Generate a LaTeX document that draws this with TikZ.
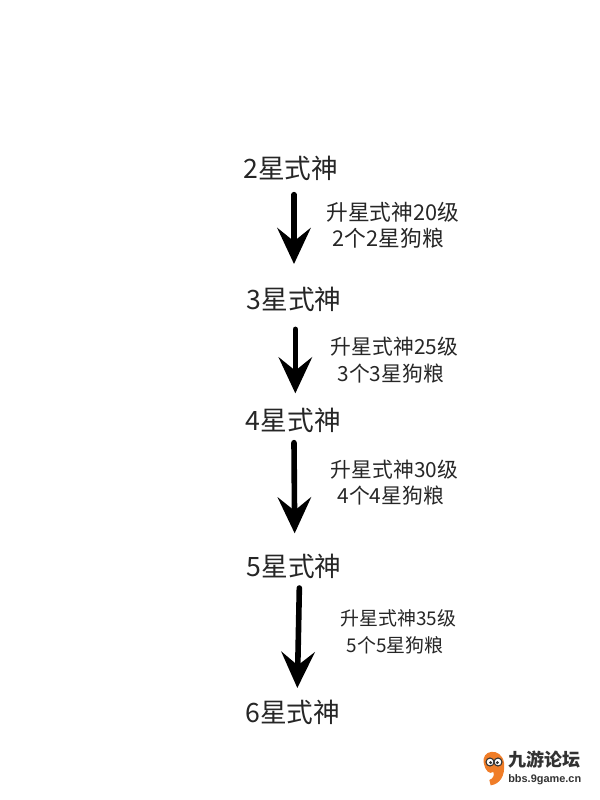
\documentclass[tikz,border=0pt]{standalone}
\usepackage{fontspec}
\setmainfont{Noto Sans CJK SC}
\newfontfamily\logofont{Liberation Sans}
\usetikzlibrary{arrows.meta}
\definecolor{LogoOrange}{RGB}{240,125,40}
\definecolor{LogoDark}{RGB}{50,50,50}
\tikzset{Level/.style={inner sep=0pt, font=\fontsize{20}{20}\selectfont, text=black!85},
         Cond/.style={inner sep=0pt, align=left, text=black!85},
         Up/.style={line width=4.2pt, line cap=round, -{Stealth[length=27pt,width=25pt,inset=10pt]}},
         LogoText/.style={inner sep=0pt, text=LogoDark}}
\begin{document}
\begin{tikzpicture}[x=1pt,y=-1pt]
    \useasboundingbox (0,0) rectangle (450,600);
    \node[Level] (S2) at (218,126) {2星式神};
    \node[Level] (S3) at (220.5,224.5) {3星式神};
    \node[Level] (S4) at (220,315) {4星式神};
    \node[Level] (S5) at (220.5,424.5) {5星式神};
    \node[Level] (S6) at (219.5,534) {6星式神};
    \coordinate (A2) at (220.5,146);
    \coordinate (B2) at (220.5,198);
    \coordinate (A3) at (221.5,247);
    \coordinate (B3) at (221.5,295);
    \coordinate (A4) at (220.5,332);
    \coordinate (B4) at (221,400);
    \coordinate (A5) at (224.5,441);
    \coordinate (B5) at (223,516);
    \draw[Up] (A2) -- (B2);
    \draw[Up] (A3) -- (B3);
    \draw[Up] (A4) -- (B4);
    \draw[Up] (A5) -- (B5);
    \node[Cond, anchor=west, font=\fontsize{16.3}{20}\selectfont] (C2) at (244.5,169) {升星式神20级\\\hspace{5pt}2个2星狗粮};
    \node[Cond, anchor=west, font=\fontsize{15.6}{20}\selectfont] (C3) at (248,270) {升星式神25级\\\hspace{5pt}3个3星狗粮};
    \node[Cond, anchor=west, font=\fontsize{15.6}{20}\selectfont] (C4) at (248,362) {升星式神30级\\\hspace{5pt}4个4星狗粮};
    \node[Cond, anchor=west, font=\fontsize{14.2}{20}\selectfont] (C5) at (255,474) {升星式神35级\\\hspace{5pt}5个5星狗粮};
    % logo
    \fill[LogoOrange] (363,573) .. controls (360,562) and (376,560) .. (378,572)
        .. controls (379,582) and (375,588) .. (368,589) -- (367,585)
        .. controls (370,584) and (371,581) .. (370,579) .. controls (367,581) and (364,578) .. (363,573) -- cycle;
    \draw[LogoDark, fill=white, line width=.8pt] (367.5,571.5) circle (3pt);
    \draw[LogoDark, fill=white, line width=.8pt] (373.5,571.5) circle (3pt);
    \fill[LogoDark] (368,572) circle (1.2pt) (373,572) circle (1.2pt);
    \node[LogoText, anchor=west, font=\fontsize{13.5}{13.5}\selectfont\bfseries] (L1) at (381,570) {九游论坛};
    \node[LogoText, anchor=west, font=\logofont\fontsize{8.2}{8.2}\selectfont\bfseries] (L2) at (381,584.5) {bbs.9game.cn};
\end{tikzpicture}
\end{document}
